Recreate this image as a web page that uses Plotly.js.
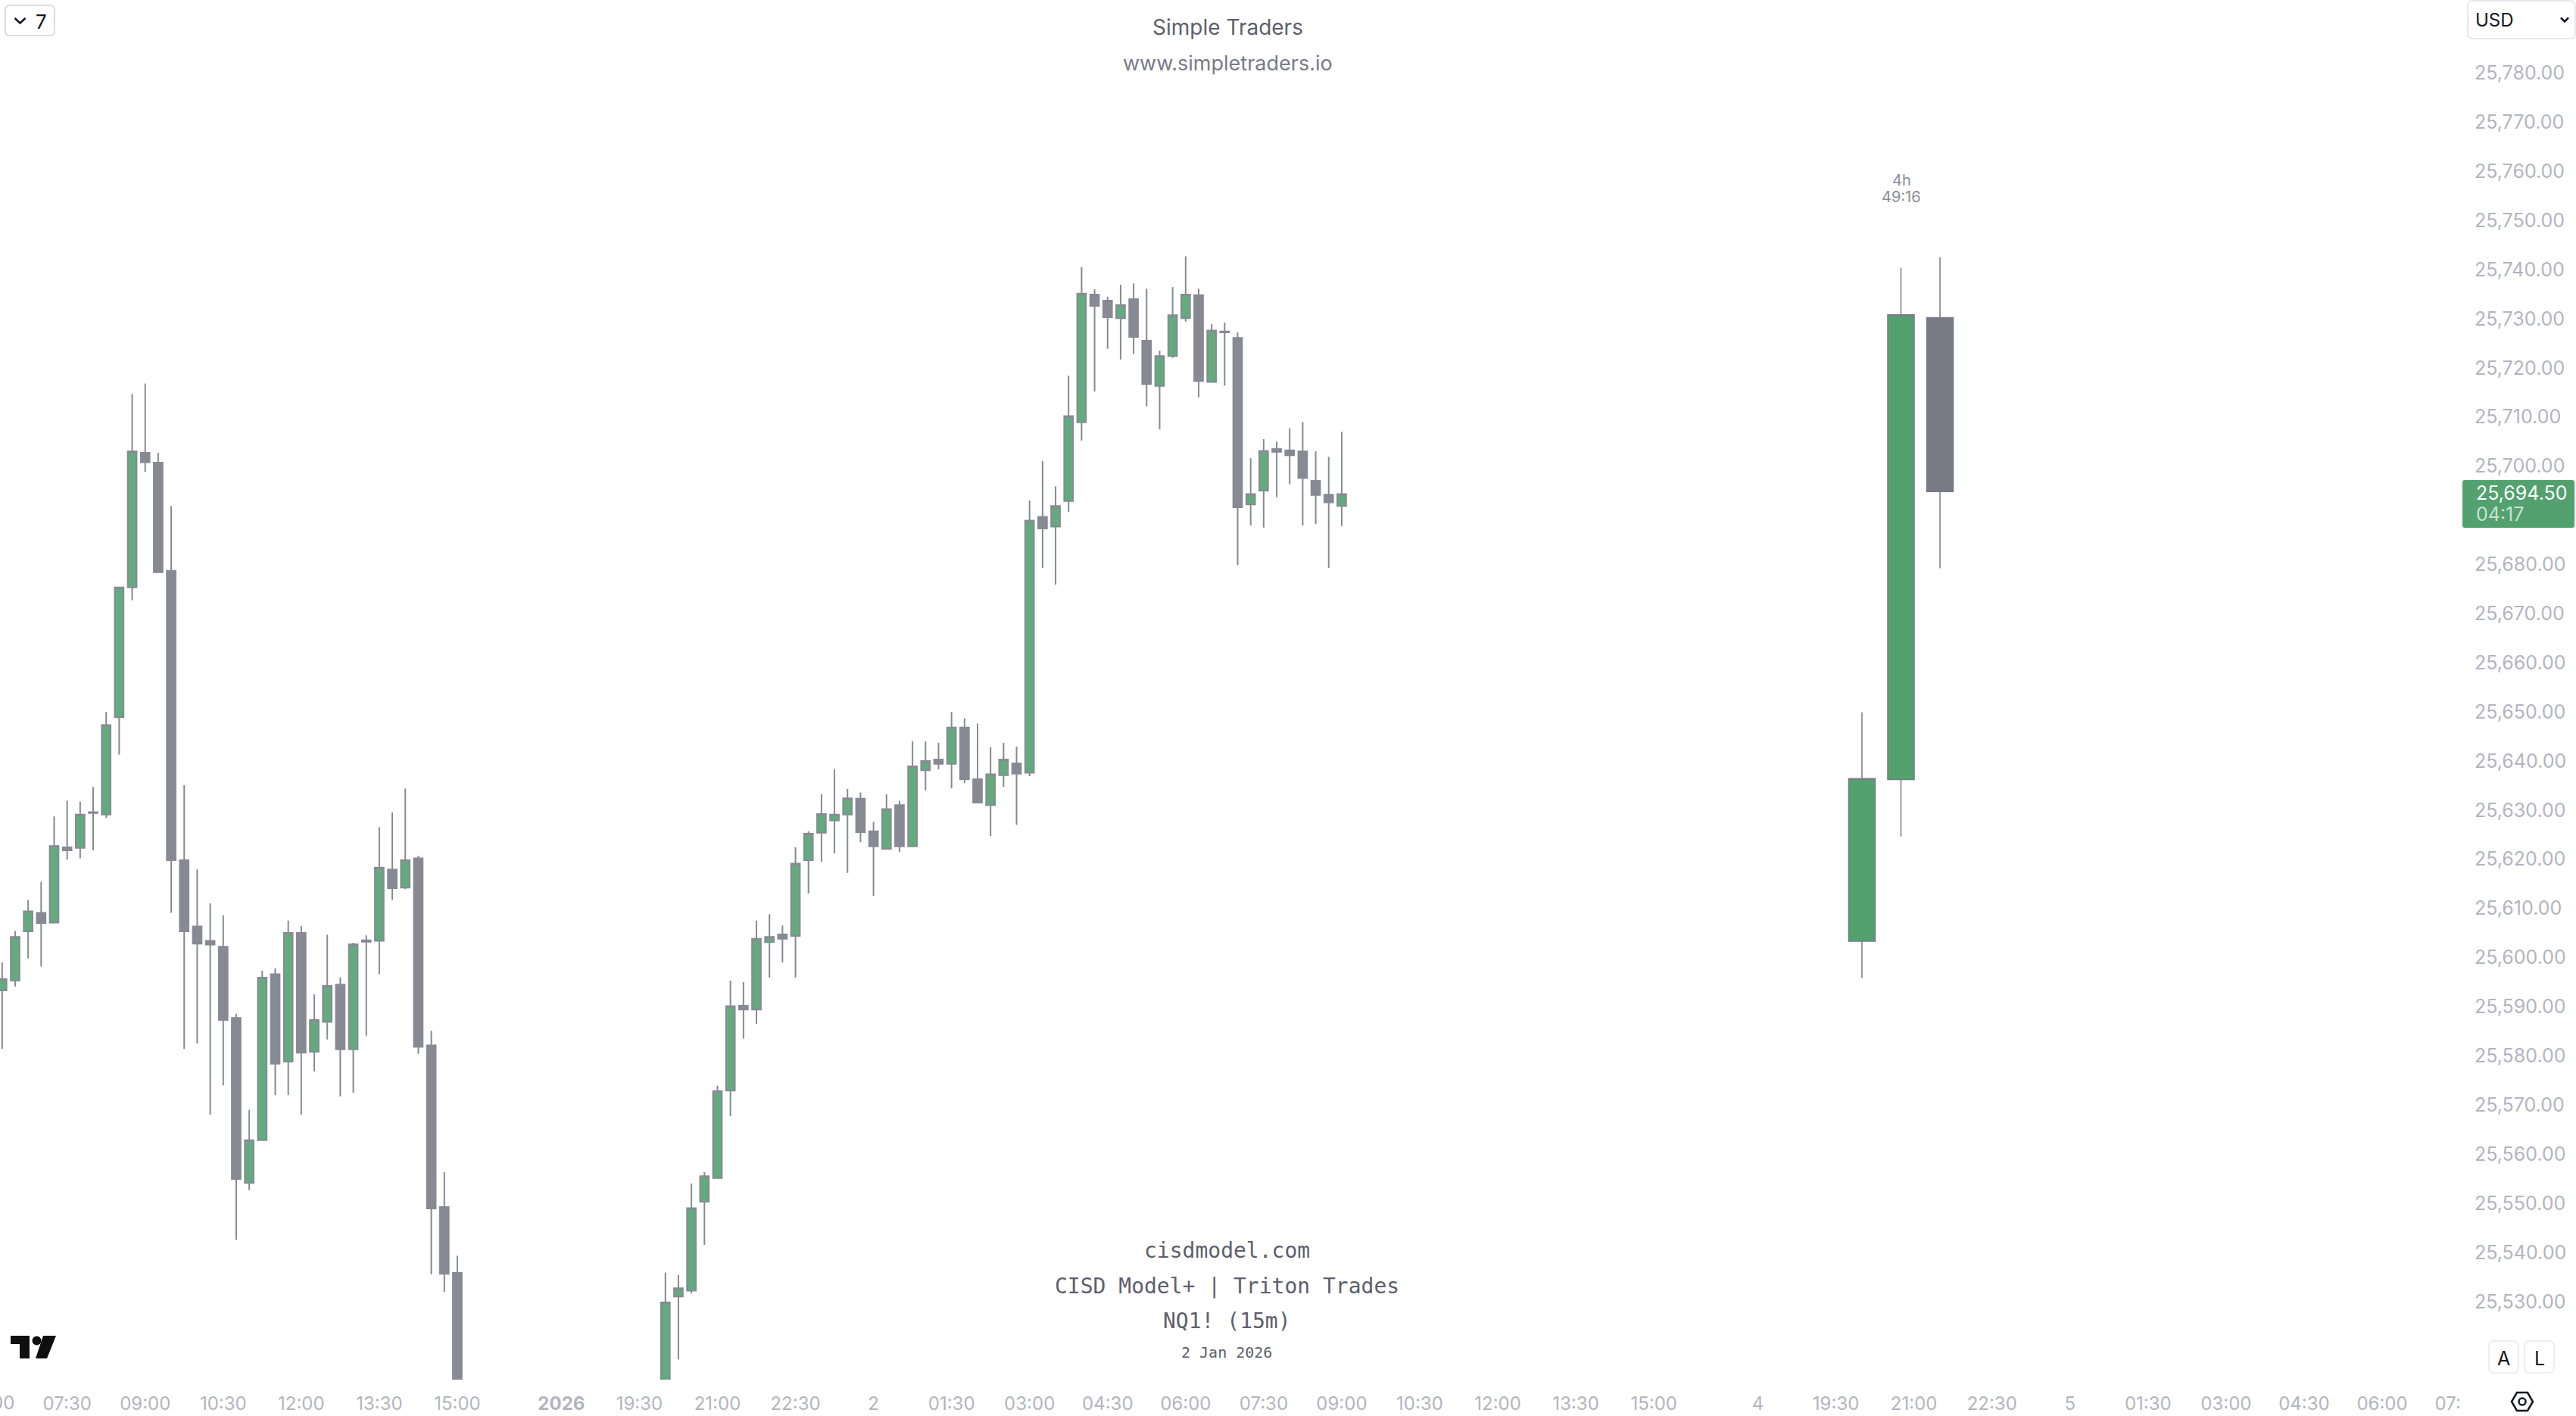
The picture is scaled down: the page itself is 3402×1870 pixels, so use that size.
<!DOCTYPE html>
<html><head><meta charset="utf-8">
<script src="https://cdn.plot.ly/plotly-3.0.1.min.js"></script>
<style>html,body{margin:0;padding:0;background:#fff}#c{width:3402px;height:1870px}</style>
</head><body><div id="c"></div>
<script>
// bar index on the time axis (15-minute bars, gaps skipped)
const sessionAIndex=[0,1,2,3,4,5,6,7,8,9,10,11,12,13,14,15,16,17,18,19,20,21,22,23,24,25,26,27,28,29,30,31,32,33,34,35];
const sessionAOpen=[25593.0,25595.0,25605.0,25608.8,25606.8,25622.1,25622.0,25629.3,25628.8,25648.6,25675.0,25702.4,25700.4,25678.4,25619.5,25606.0,25603.1,25601.9,25587.4,25553.8,25562.5,25596.3,25578.5,25604.7,25580.5,25586.6,25594.2,25581.0,25603.2,25603.1,25617.6,25613.9,25619.9,25581.8,25548.9,25535.5];
const sessionAHigh=[25598.7,25605.1,25611.4,25615.1,25628.4,25631.6,25631.4,25634.4,25649.7,25675.0,25714.4,25716.5,25702.4,25691.6,25634.8,25617.6,25610.7,25608.3,25588.2,25568.7,25597.0,25597.5,25607.2,25606.1,25592.2,25604.3,25595.6,25602.7,25604.2,25626.2,25629.2,25634.1,25620.4,25584.8,25556.0,25539.0];
const sessionALow=[25581.1,25593.8,25599.5,25597.9,25606.8,25619.6,25619.9,25621.5,25628.1,25641.0,25672.4,25698.5,25678.1,25608.8,25581.1,25582.2,25567.7,25573.7,25542.2,25552.4,25562.5,25571.7,25571.7,25567.7,25576.5,25583.0,25571.4,25572.2,25583.8,25596.3,25611.4,25613.6,25580.1,25535.2,25531.6,25500.0];
const sessionAClose=[25595.3,25603.9,25609.1,25606.7,25622.4,25621.5,25628.8,25629.1,25647.0,25675.0,25702.7,25700.5,25678.1,25619.5,25605.0,25602.5,25602.3,25587.0,25554.6,25562.5,25595.6,25578.1,25604.7,25580.3,25587.0,25593.9,25581.0,25602.4,25602.9,25618.0,25613.8,25619.5,25581.5,25548.6,25535.3,25505.0];

const sessionBIndex=[51,52,53,54,55,56,57,58,59,60,61,62,63,64,65,66,67,68,69,70,71,72,73,74,75,76,77,78,79,80,81,82,83,84,85,86,87,88,89,90,91,92,93,94,95,96,97,98,99,100,101,102,103];
const sessionBOpen=[25505.0,25530.7,25531.9,25550.0,25554.8,25572.6,25589.9,25589.1,25602.8,25604.4,25604.1,25619.5,25625.1,25627.6,25628.8,25632.0,25625.4,25621.8,25630.7,25622.3,25637.8,25640.0,25639.1,25646.5,25636.0,25630.7,25636.8,25639.2,25637.3,25689.4,25687.4,25692.6,25708.6,25734.6,25733.4,25729.8,25733.7,25725.2,25716.0,25722.1,25729.8,25734.5,25716.8,25727.1,25725.8,25691.9,25694.7,25703.2,25702.9,25702.7,25696.7,25693.9,25691.6];
const sessionBHigh=[25535.6,25535.1,25553.7,25556.0,25573.6,25595.0,25594.7,25607.2,25608.5,25606.2,25622.1,25625.4,25632.9,25638.0,25634.0,25633.3,25627.3,25632.9,25631.6,25643.7,25643.7,25643.4,25649.7,25648.4,25647.3,25642.5,25643.4,25642.6,25692.7,25700.7,25695.6,25718.1,25740.2,25735.7,25734.2,25736.6,25736.9,25735.8,25723.2,25736.1,25742.4,25735.8,25728.6,25728.9,25726.9,25701.3,25705.2,25704.7,25707.4,25708.7,25702.7,25701.6,25706.7];
const sessionBLow=[25500.0,25517.9,25531.3,25541.2,25554.8,25567.4,25583.2,25586.2,25595.6,25598.7,25595.6,25612.7,25619.2,25620.9,25616.9,25623.2,25612.2,25621.7,25621.2,25622.3,25633.7,25638.0,25634.1,25635.2,25631.2,25624.4,25634.4,25626.7,25636.6,25679.0,25675.6,25690.4,25704.9,25714.9,25723.6,25721.4,25722.5,25711.9,25707.2,25721.7,25729.1,25713.7,25716.8,25716.1,25679.6,25687.6,25687.2,25693.4,25696.0,25687.6,25687.9,25679.0,25687.5];
const sessionBClose=[25529.5,25532.4,25548.7,25555.2,25572.5,25589.8,25589.1,25603.5,25603.9,25603.5,25618.8,25624.9,25628.9,25628.8,25632.1,25625.2,25622.3,25629.9,25622.3,25638.6,25639.7,25639.1,25646.5,25636.0,25631.2,25637.0,25640.0,25637.1,25688.6,25687.0,25691.6,25709.9,25734.8,25732.3,25730.0,25732.5,25726.0,25716.4,25722.1,25730.4,25734.6,25717.0,25727.3,25726.9,25691.3,25694.0,25702.8,25702.6,25701.9,25697.3,25693.8,25692.3,25694.0];

// higher-timeframe candles to the right of the chart
const htfIndex=[143,146,149];
const htfOpen=[25603.0,25635.9,25729.9];
const htfHigh=[25649.6,25740.1,25742.2];
const htfLow=[25595.5,25624.3,25678.9];
const htfClose=[25636.1,25730.5,25694.5];

// axes
const priceTicks=[25530,25540,25550,25560,25570,25580,25590,25600,25610,25620,25630,25640,25650,25660,25670,25680,25700,25710,25720,25730,25740,25750,25760,25770,25780];
const timeTickIndex=[5,11,17,23,29,35,43,49,55,61,67,73,79,85,91,97,103,109,115,121,127,135,141,147,153,159,165,171,177,183,188.05];
const timeTickText=['07:30','09:00','10:30','12:00','13:30','15:00','<b>2026</b>','19:30','21:00','22:30','2','01:30','03:00','04:30','06:00','07:30','09:00','10:30','12:00','13:30','15:00','4','19:30','21:00','22:30','5','01:30','03:00','04:30','06:00','07:'];

const W=3402,H=1870,PR=3252,PB=1822;
const px=x=>x/PR, py=y=>1-y/PB;
const barToPx=[2.8,17.176];
const xRange=[(0-barToPx[0])/barToPx[1],(PR-barToPx[0])/barToPx[1]];
const yOf=y=>25780-(y-94.5)/6.489;
const yRange=[yOf(PB),yOf(0)];

const GREEN='#63AB7E',GRAY='#878A93',GREEN2='#53A16F',GRAY2='#787B86';
const candle=(x,o,h,l,c,up,dn,line,xa,w)=>({type:'candlestick',x:x,open:o,high:h,low:l,close:c,xaxis:xa,yaxis:'y',
  whiskerwidth:0,hoverinfo:'skip',
  increasing:{fillcolor:up,line:{color:line,width:w}},decreasing:{fillcolor:dn,line:{color:line,width:w}}});
const traces=[
  candle(sessionAIndex,sessionAOpen,sessionAHigh,sessionALow,sessionAClose,GREEN,GRAY,GRAY,'x',2),
  candle(sessionBIndex,sessionBOpen,sessionBHigh,sessionBLow,sessionBClose,GREEN,GRAY,GRAY,'x',2),
  candle(htfIndex,htfOpen,htfHigh,htfLow,htfClose,GREEN2,GRAY2,GRAY2,'x2',1.5)
];

const path=pts=>pts.map((p,i)=>(i?'L':'M')+px(p[0]).toFixed(6)+','+py(p[1]).toFixed(6)).join(' ');
const poly=pts=>path(pts)+' Z';
const rrect=(x0,y0,x1,y1,r)=>{const P=(x,y)=>px(x).toFixed(6)+','+py(y).toFixed(6);
  return 'M'+P(x0+r,y0)+' L'+P(x1-r,y0)+' Q'+P(x1,y0)+' '+P(x1,y0+r)+' L'+P(x1,y1-r)+' Q'+P(x1,y1)+' '+P(x1-r,y1)+
  ' L'+P(x0+r,y1)+' Q'+P(x0,y1)+' '+P(x0,y1-r)+' L'+P(x0,y0+r)+' Q'+P(x0,y0)+' '+P(x0+r,y0)+' Z';};
const sh=(d,o)=>Object.assign({type:'path',xref:'paper',yref:'paper',path:d,layer:'above'},o);
const box=(x0,y0,x1,y1,r,c)=>sh(rrect(x0,y0,x1,y1,r),{fillcolor:'rgba(255,255,255,1)',line:{color:c,width:2}});
const chev=(pts)=>sh(path(pts),{line:{color:'#131722',width:2.5}});
const shapes=[
  box(7,7,72,47,6,'#DEDEDE'),
  chev([[19.5,24],[26.5,30.5],[33.5,24]]),
  box(3259,1,3401,51,7,'#E8E8E8'),
  chev([[3382,23.5],[3387,28.5],[3392,23.5]]),
  box(3287,1771,3326,1813,7,'#EEEEEE'),
  box(3334,1771,3373,1813,7,'#EEEEEE'),
  sh(poly([[3317,1851],[3324,1839],[3338,1839],[3345,1851],[3338,1863],[3324,1863]]),{line:{color:'#131722',width:2.5},fillcolor:'rgba(0,0,0,0)'}),
  {type:'circle',xref:'paper',yref:'paper',x0:px(3326.5),x1:px(3335.5),y0:py(1846.5),y1:py(1855.5),line:{color:'#131722',width:2.5},layer:'above'},
  sh(poly([[14,1764],[39,1764],[39,1794],[26,1794],[26,1775],[14,1775]]),{fillcolor:'#0F0F0F',line:{width:0}}),
  {type:'circle',xref:'paper',yref:'paper',x0:px(42.5),x1:px(54.5),y0:py(1764.5),y1:py(1776.5),fillcolor:'#0F0F0F',line:{width:0},layer:'above'},
  sh(poly([[57,1764],[74,1764],[62,1794],[47,1794]]),{fillcolor:'#0F0F0F',line:{width:0}}),
  sh(rrect(3252,634,3400,697,3),{fillcolor:GREEN2,line:{width:0}})
];

const note=(text,x,y,size,color,family,anchor,extra)=>Object.assign({xref:'paper',yref:'paper',x:px(x),y:py(y),text:text,showarrow:false,
  xanchor:anchor||'center',yanchor:'middle',font:{size:size,color:color,family:family}},extra||{});
const INTER='Inter, sans-serif',MONO='"DejaVu Sans Mono", monospace',INK='#131722',SOFT='#5D606B';
const annotations=[
  note('Simple Traders',1621,36,28,SOFT,INTER),
  note('www.simpletraders.io',1621,83,27,'#787B86',INTER),
  note('cisdmodel.com',1620,1651,28,SOFT,MONO),
  note('CISD Model+ | Triton Trades',1620,1698,28,SOFT,MONO),
  note('NQ1! (15m)',1620,1744,28,SOFT,MONO),
  note('2 Jan 2026',1620,1786,20,SOFT,MONO),
  note('4h',2511,238,20,'#8A8D98',INTER),
  note('49:16',2511,260,20,'#8A8D98',INTER),
  note('7',54,28,26,INK,INTER),
  note('USD',3267,27,24,INK,INTER,'left'),
  note('A',3306.5,1794,25,INK,INTER),
  note('L',3353.5,1794,25,INK,INTER),
  note('25,694.50',3268,651,25,'#FFFFFF',INTER,'left'),
  note('04:17',3268,679,25,'rgba(255,255,255,0.7)',INTER,'left'),
  note('00',0,1852,24,'#B2B5BE',INTER,'left',{xshift:-13})
];

const layout={width:W,height:H,margin:{l:0,r:W-PR,t:0,b:H-PB,pad:0},paper_bgcolor:'#fff',plot_bgcolor:'#fff',showlegend:false,hovermode:false,dragmode:false,boxgap:0.32,boxgroupgap:0,
  xaxis:{type:'linear',range:xRange,rangeslider:{visible:false},showgrid:false,zeroline:false,showline:false,ticks:'',tickmode:'array',tickvals:timeTickIndex,ticktext:timeTickText,
    tickfont:{family:INTER,size:24,color:'#B2B5BE'},tickangle:0,ticklabelstandoff:15,automargin:false},
  xaxis2:{type:'linear',range:xRange,overlaying:'x',rangeslider:{visible:false},visible:false,showgrid:false,zeroline:false},
  yaxis:{type:'linear',range:yRange,side:'right',showgrid:false,zeroline:false,showline:false,ticks:'',tickmode:'array',tickvals:priceTicks,tickformat:',.2f',
    tickfont:{family:INTER,size:25,color:'#B2B5BE'},ticklabelstandoff:15,ticklabelshift:2,automargin:false},
  shapes:shapes,annotations:annotations};
Plotly.newPlot('c',traces,layout,{displayModeBar:false,staticPlot:true});
</script></body></html>
